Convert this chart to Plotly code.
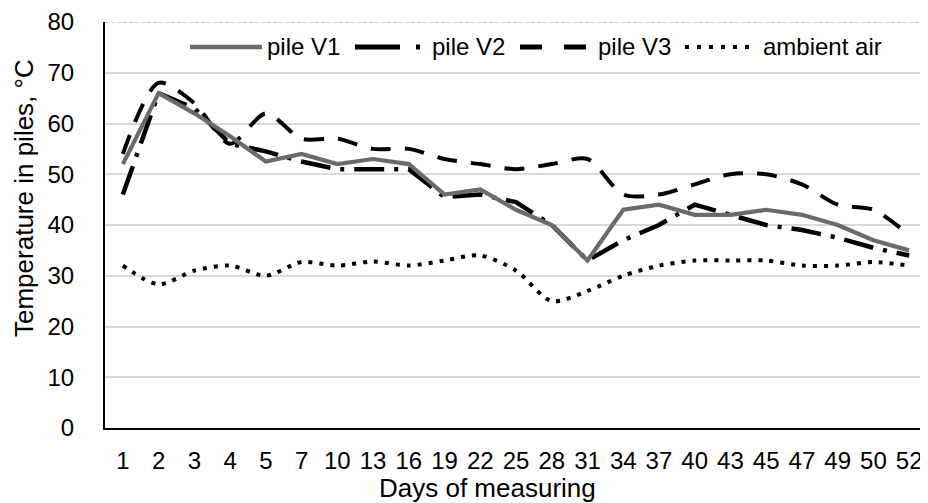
import plotly.graph_objects as go

days = ["1", "2", "3", "4", "5", "7", "10", "13", "16", "19", "22", "25",
        "28", "31", "34", "37", "40", "43", "45", "47", "49", "50", "52"]

pile_v1 = [52, 66, 62, 57.5, 52.5, 54, 52, 53, 52, 46, 47, 43,
           40, 33, 43, 44, 42, 42, 43, 42, 40, 37, 35]
pile_v2 = [46, 66, 63, 56, 54.5, 52.5, 51, 51, 51, 45.5, 46, 44.5,
           40, 33, 37, 40, 44, 42, 40, 39, 37.5, 35.5, 34]
pile_v3 = [54, 68, 64, 56, 62, 57, 57, 55, 55, 53, 52, 51,
           52, 53, 46, 46, 48, 50, 50, 48, 44, 43, 38]
ambient = [32, 28.3, 31, 32, 30, 32.7, 32, 32.8, 32, 33, 34, 31,
           25, 27, 30, 32, 33, 33, 33, 32, 32, 32.7, 32]

y_ticks = [0, 10, 20, 30, 40, 50, 60, 70, 80]

FONT = "Liberation Sans, Arial, sans-serif"
FS = 24
TFS = 26

fig = go.Figure()
fig.add_trace(go.Scatter(x=days, y=ambient, mode="lines", name="ambient air",
                         line=dict(color="#000000", width=4, dash="4px,7px",
                                   shape="spline", smoothing=0.8)))
fig.add_trace(go.Scatter(x=days, y=pile_v3, mode="lines", name="pile V3",
                         line=dict(color="#000000", width=4, dash="20px,14px",
                                   shape="spline", smoothing=0.8)))
fig.add_trace(go.Scatter(x=days, y=pile_v2, mode="lines", name="pile V2",
                         line=dict(color="#000000", width=4.5, dash="30px,10px,4px,10px")))
fig.add_trace(go.Scatter(x=days, y=pile_v1, mode="lines", name="pile V1",
                         line=dict(color="#6b6b6b", width=4.2)))

# The page has an 8px body margin, so the figure is sized to fill the rest.
OFF = 8
W, H = 928 - OFF, 503 - OFF
L, R, T, B = 105 - OFF, 1, 22 - OFF, 75
pw, ph = W - L - R, H - T - B
# screen px -> paper coords
def px(x):
    return (x - (L + OFF)) / pw
def py(y):
    return ((T + OFF + ph) - y) / ph

shapes = []
# dashed top line at 80
shapes.append(dict(type="line", xref="paper", yref="y", x0=0, x1=1, y0=80, y1=80,
                   line=dict(color="white", width=3), layer="above"))
shapes.append(dict(type="line", xref="paper", yref="y", x0=0, x1=1, y0=80, y1=80,
                   line=dict(color="#9a9a9a", width=1.2, dash="4px,2px"), layer="above"))

# manual legend
ly = py(47)
legend_items = [
    (190, 262, "#6b6b6b", 4.5, "solid", 267, "pile V1"),
    (355, 424, "#000000", 5, "45px,16px,4px,10px", 432, "pile V2"),
    (520, 586, "#000000", 5, "22px,22px", 598, "pile V3"),
    (685, 750, "#000000", 4, "4px,8px", 763, "ambient air"),
]
annotations = []
for x0, x1, col, w, dash, tx, label in legend_items:
    shapes.append(dict(type="line", xref="paper", yref="paper", x0=px(x0), x1=px(x1),
                       y0=ly, y1=ly, line=dict(color=col, width=w, dash=dash), layer="above"))
    annotations.append(dict(xref="paper", yref="paper", x=px(tx), y=ly, text=label,
                            showarrow=False, xanchor="left", yanchor="middle",
                            xshift=-2,
                            font=dict(family=FONT, size=FS, color="#000000")))

# axis titles
annotations.append(dict(xref="paper", yref="paper", x=px(487), y=py(488),
                        text="Days of measuring", showarrow=False,
                        xanchor="center", yanchor="middle",
                        font=dict(family=FONT, size=TFS, color="#000000")))
annotations.append(dict(xref="paper", yref="paper", x=px(24), y=py(198),
                        text="Temperature in piles, °C", showarrow=False, textangle=-90,
                        xanchor="center", yanchor="middle", borderpad=0,
                        font=dict(family=FONT, size=TFS, color="#000000")))

fig.update_layout(
    width=W, height=H,
    margin=dict(l=L, r=R, t=T, b=B, autoexpand=False),
    paper_bgcolor="white", plot_bgcolor="white",
    showlegend=False,
    font=dict(family=FONT, size=FS, color="#000000"),
    shapes=shapes, annotations=annotations,
)
fig.update_xaxes(type="category", categoryorder="array", categoryarray=days,
                 range=[-0.5, len(days) - 0.5],
                 automargin=False,
                 showline=True, linecolor="#000000", linewidth=2,
                 showgrid=False, ticks="", ticklabelstandoff=10,
                 tickfont=dict(family=FONT, size=FS, color="#000000"))
fig.update_yaxes(range=[0, 80], tickvals=y_ticks, ticktext=[str(v) for v in y_ticks],
                 automargin=False,
                 showline=True, linecolor="#000000", linewidth=2,
                 showgrid=True, gridcolor="#d9d9d9", gridwidth=1.5,
                 zeroline=False, ticks="", ticklabelstandoff=24,
                 tickfont=dict(family=FONT, size=FS, color="#000000"))

fig.write_html("out.html")
